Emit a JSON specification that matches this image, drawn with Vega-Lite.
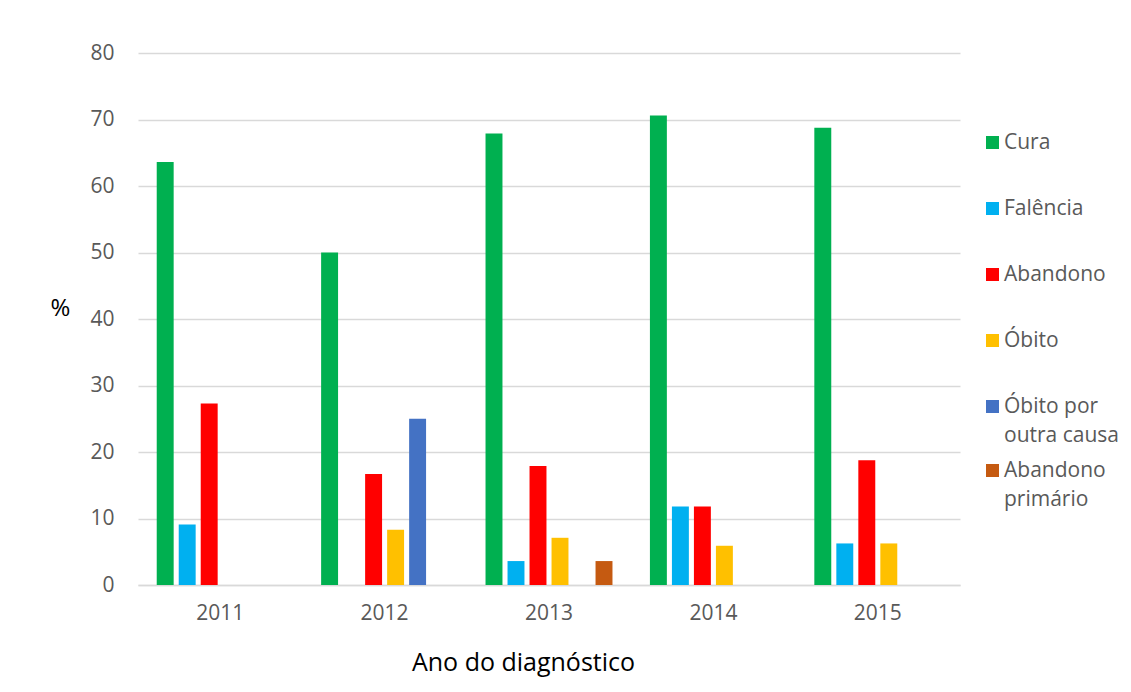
{
  "$schema": "https://vega.github.io/schema/vega-lite/v6.json",
  "width": 822,
  "height": 532,
  "autosize": {"type": "none"},
  "padding": {"left": 138, "top": 53, "right": 171, "bottom": 107},
  "background": "white",
  "config": {
    "view": {"stroke": null},
    "font": "Open Sans",
    "style": {"guide-label": {"lineHeight": 29}},
    "legend": {
      "title": null,
      "orient": "none",
      "padding": 0,
      "symbolType": "square",
      "symbolSize": 169,
      "symbolStrokeWidth": 0,
      "labelFont": "Open Sans",
      "labelFontSize": 21,
      "labelColor": "#595959",
      "labelOffset": 1,
      "rowPadding": 44,
      "labelLimit": 300
    }
  },
  "data": {
    "values": [
      {"ano": "2011", "serie": "Cura", "valor": 63.6},
      {"ano": "2011", "serie": "Falência", "valor": 9.1},
      {"ano": "2011", "serie": "Abandono", "valor": 27.3},
      {"ano": "2012", "serie": "Cura", "valor": 50.0},
      {"ano": "2012", "serie": "Abandono", "valor": 16.7},
      {"ano": "2012", "serie": "Óbito", "valor": 8.3},
      {"ano": "2012", "serie": "Óbito por outra causa", "valor": 25.0},
      {"ano": "2013", "serie": "Cura", "valor": 67.9},
      {"ano": "2013", "serie": "Falência", "valor": 3.6},
      {"ano": "2013", "serie": "Abandono", "valor": 17.9},
      {"ano": "2013", "serie": "Óbito", "valor": 7.1},
      {"ano": "2013", "serie": "Abandono primário", "valor": 3.6},
      {"ano": "2014", "serie": "Cura", "valor": 70.6},
      {"ano": "2014", "serie": "Falência", "valor": 11.8},
      {"ano": "2014", "serie": "Abandono", "valor": 11.8},
      {"ano": "2014", "serie": "Óbito", "valor": 5.9},
      {"ano": "2015", "serie": "Cura", "valor": 68.75},
      {"ano": "2015", "serie": "Falência", "valor": 6.25},
      {"ano": "2015", "serie": "Abandono", "valor": 18.75},
      {"ano": "2015", "serie": "Óbito", "valor": 6.25}
    ]
  },
  "encoding": {
    "x": {
      "field": "ano",
      "type": "nominal",
      "scale": {"paddingInner": 0.197, "paddingOuter": 0.0985},
      "axis": {
        "title": "Ano do diagnóstico",
        "labelAngle": 0,
        "ticks": false,
        "domainColor": "#D9D9D9",
        "domainWidth": 1.3,
        "labelColor": "#595959",
        "labelFontSize": 21,
        "labelFont": "Open Sans",
        "labelPadding": 17,
        "titleFont": "Open Sans",
        "titleFontSize": 25,
        "titleColor": "#000000",
        "titleFontWeight": "normal",
        "titleX": 385,
        "titleY": 77,
        "titleAlign": "center",
        "titleBaseline": "middle"
      }
    },
    "xOffset": {
      "field": "serie",
      "type": "nominal",
      "scale": {
        "domain": ["Cura", "Falência", "Abandono", "Óbito", "Óbito por outra causa", "Abandono primário"],
        "paddingInner": 0.23,
        "paddingOuter": 0.115
      }
    },
    "y": {
      "field": "valor",
      "type": "quantitative",
      "scale": {"domain": [0, 80]},
      "axis": {
        "values": [0, 10, 20, 30, 40, 50, 60, 70, 80],
        "domain": false,
        "ticks": false,
        "gridColor": "#D9D9D9",
        "gridWidth": 1.3,
        "labelColor": "#595959",
        "labelFontSize": 21,
        "labelFont": "Open Sans",
        "labelPadding": 24,
        "title": "%",
        "titleAngle": 0,
        "titleFont": "Open Sans",
        "titleFontSize": 24,
        "titleFontWeight": "normal",
        "titleColor": "#000000",
        "titleAlign": "center",
        "titleBaseline": "middle",
        "titleX": -78,
        "titleY": 255
      }
    }
  },
  "layer": [
    {
      "transform": [{"filter": "datum.serie != 'Abandono primário'"}],
      "mark": {"type": "bar"},
      "encoding": {
        "color": {
          "field": "serie",
          "type": "nominal",
          "scale": {
            "domain": ["Cura", "Falência", "Abandono", "Óbito", "Óbito por outra causa"],
            "range": ["#00B050", "#00B0F0", "#FF0000", "#FFC000", "#4472C4"]
          },
          "legend": {
            "legendX": 844,
            "legendY": 79,
            "labelExpr": "datum.label == 'Óbito por outra causa' ? ['Óbito por', 'outra causa'] : datum.label"
          }
        }
      }
    },
    {
      "transform": [{"filter": "datum.serie == 'Abandono primário'"}],
      "mark": {"type": "bar"},
      "encoding": {
        "fill": {
          "field": "serie",
          "type": "nominal",
          "scale": {
            "domain": ["Abandono primário"],
            "range": ["#C55A11"]
          },
          "legend": {
            "legendX": 844,
            "legendY": 407,
            "labelExpr": "datum.label == 'Abandono primário' ? ['Abandono', 'primário'] : datum.label"
          }
        }
      }
    }
  ]
}
